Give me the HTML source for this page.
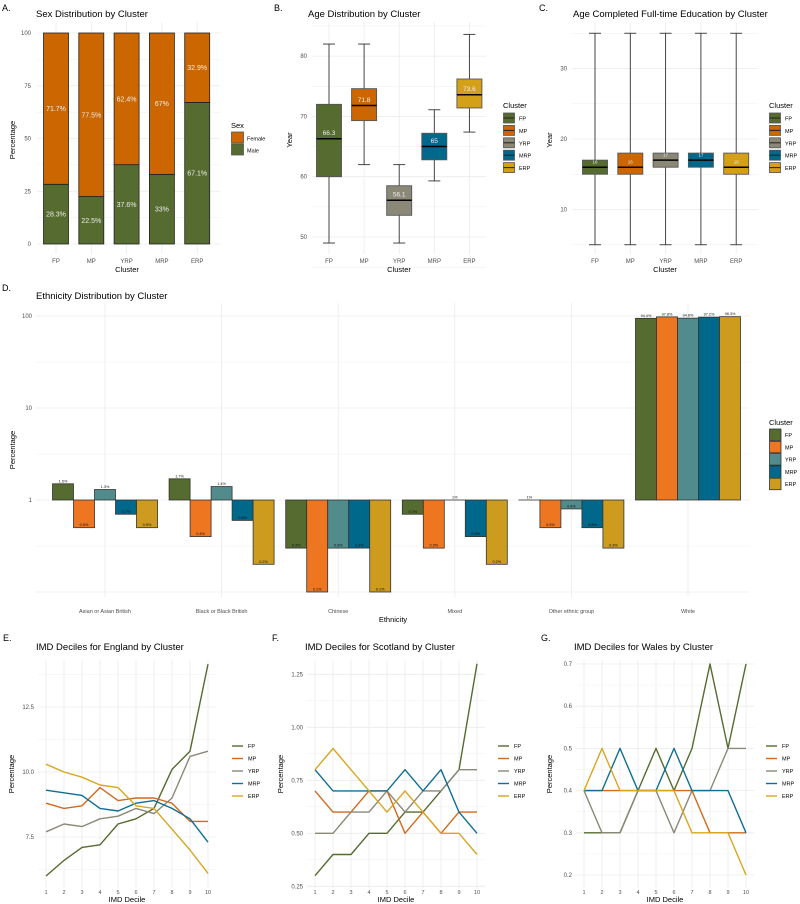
<!DOCTYPE html>
<html><head><meta charset="utf-8"><style>
html,body{margin:0;padding:0;background:#fff;}
svg{display:block;font-family:"Liberation Sans",sans-serif;}
</style></head><body>
<svg id="fig" width="800" height="904" viewBox="0 0 800 904" xmlns="http://www.w3.org/2000/svg"></svg>
<script>
// ---------- DATA ----------
const clusters = ["FP","MP","YRP","MRP","ERP"];
const sexMale = [28.3,22.5,37.6,33,67.1];
const sexFemale = [71.7,77.5,62.4,67,32.9];
const ageMin = [49,62,49,59.3,67.4];
const ageQ1 = [60,69.3,53.6,62.8,71.4];
const ageMed = [66.3,71.8,56.1,65,73.6];
const ageQ3 = [72,74.6,58.5,67.2,76.2];
const ageMax = [82,82,62,71.1,83.6];
const eduMin = [5,5,5,5,5];
const eduQ1 = [15,15,16,16,15];
const eduMed = [16,16,17,17,16];
const eduQ3 = [17,18,18,18,18];
const eduMax = [35,35,35,35,35];
const ethnicities = ["Asian or Asian British","Black or Black British","Chinese","Mixed","Other ethnic group","White"];
const ethFP = [1.5,1.7,0.3,0.7,1,94.4];
const ethMP = [0.5,0.4,0.1,0.3,0.5,97.8];
const ethYRP = [1.3,1.4,0.3,1,0.8,94.8];
const ethMRP = [0.7,0.6,0.3,0.4,0.5,97.2];
const ethERP = [0.5,0.2,0.1,0.2,0.3,98.3];
const deciles = [1,2,3,4,5,6,7,8,9,10];
const engFP = [6.0,6.6,7.1,7.2,8.0,8.2,8.6,10.1,10.8,14.15];
const engMP = [8.8,8.6,8.7,9.4,8.9,9.0,9.0,8.8,8.1,8.1];
const engYRP = [7.7,8.0,7.9,8.2,8.3,8.6,8.4,9.0,10.6,10.8];
const engMRP = [9.3,9.2,9.1,8.6,8.5,8.8,8.9,8.6,8.2,7.3];
const engERP = [10.3,10.0,9.8,9.5,9.4,8.7,8.6,7.8,7.0,6.1];
const scoFP = [0.3,0.4,0.4,0.5,0.5,0.6,0.6,0.7,0.8,1.3];
const scoMP = [0.7,0.6,0.6,0.7,0.7,0.5,0.6,0.5,0.6,0.6];
const scoYRP = [0.5,0.5,0.6,0.6,0.7,0.6,0.7,0.7,0.8,0.8];
const scoMRP = [0.8,0.7,0.7,0.7,0.7,0.8,0.7,0.8,0.6,0.5];
const scoERP = [0.8,0.9,0.8,0.7,0.6,0.7,0.6,0.5,0.5,0.4];
const walFP = [0.3,0.3,0.3,0.4,0.5,0.4,0.5,0.7,0.5,0.7];
const walMP = [0.4,0.4,0.4,0.4,0.4,0.4,0.4,0.3,0.3,0.3];
const walYRP = [0.4,0.3,0.3,0.4,0.4,0.3,0.4,0.4,0.5,0.5];
const walMRP = [0.4,0.4,0.5,0.4,0.4,0.5,0.4,0.4,0.4,0.3];
const walERP = [0.4,0.5,0.4,0.4,0.4,0.4,0.3,0.3,0.3,0.2];
const ageTicks = [50,60,70,80];
const eduTicks = [10,20,30];
const pctTicks = [0,25,50,75,100];
const logTicks = [1,10,100];
const engTicks = [7.5,10,12.5];
const engTickLabels = ["7.5","10.0","12.5"];
const scoTicks = [0.25,0.5,0.75,1.0,1.25];
const scoTickLabels = ["0.25","0.50","0.75","1.00","1.25"];
const walTicks = [0.2,0.3,0.4,0.5,0.6,0.7];
const walTickLabels = ["0.2","0.3","0.4","0.5","0.6","0.7"];

const colA = ["#556b2f","#cc6600","#8b8878","#00688b","#d4a017"];
const colD = ["#556b2f","#ee7621","#528b8b","#00688b","#cd9b1d"];
const colL = ["#556b2f","#d2691e","#8b8878","#0f6e93","#daa520"];

const svg = document.getElementById('fig');
const NS = "http://www.w3.org/2000/svg";
function mk(tag, attrs, parent){
  const e = document.createElementNS(NS, tag);
  for (const k in attrs) e.setAttribute(k, attrs[k]);
  (parent||svg).appendChild(e);
  return e;
}
function txt(x,y,s,size,fill,anchor,parent,rot){
  const t = mk('text',{x:x,y:y,'font-size':size,fill:fill,'text-anchor':anchor||'start'},parent);
  if (rot) t.setAttribute('transform','rotate(-90 '+x+' '+y+')');
  t.textContent = s;
  return t;
}
function grp(name){
  const g = mk('g',{});
  
  
  return g;
}
function hline(g,x1,x2,y,w,c){ return mk('line',{x1:x1,x2:x2,y1:y,y2:y,stroke:c||'#ebebeb','stroke-width':w||0.8},g); }
function vline(g,x,y1,y2,w,c){ return mk('line',{x1:x,x2:x,y1:y1,y2:y2,stroke:c||'#ebebeb','stroke-width':w||0.8},g); }

// ---------- Panel A ----------
(function(){
  const g = grp('panel-a-sex-distribution');
  const X = i => 56 + i*35.3, Y = v => 244 - v*2.11;
  const gr = grp('panel-a-grid'); g.appendChild(gr);
  pctTicks.forEach((t,i)=>{ hline(gr,37,220,Y(t),0.8); if(i<4) hline(gr,37,220,Y(t+12.5),0.4); });
  clusters.forEach((c,i)=>vline(gr,X(i),22,254,0.8));
  pctTicks.forEach(t=>{ const e=txt(31,Y(t)+2,String(t),6,'#4d4d4d','end',g);
      });
  clusters.forEach((c,i)=>{
    const m = sexMale[i], f = sexFemale[i];
    const b1 = mk('rect',{x:X(i)-12.5,y:Y(m),width:25,height:Y(0)-Y(m),fill:colA[0],stroke:'#222','stroke-width':0.8},g);
    
    
    const b2 = mk('rect',{x:X(i)-12.5,y:Y(m+f),width:25,height:Y(m)-Y(m+f),fill:colA[1],stroke:'#222','stroke-width':0.8},g);
    
    
    const l1 = txt(X(i),Y(m/2)+2.5,m+'%',7,'#eee','middle',g);
    
    
    const l2 = txt(X(i),Y(m+f/2)+2.5,f+'%',7,'#eee','middle',g);
    
    
    const xt = txt(X(i),263,c,6,'#4d4d4d','middle',g);
    
    
  });
  txt(2,11,'A.',9,'#000','start',g);
  const t = txt(36,17,'Sex Distribution by Cluster',9.5,'#000','start',g);
  
  
  txt(127,272,'Cluster',7.5,'#000','middle',g);
  txt(15,140,'Percentage',7.5,'#000','middle',g,true);
  const lg = grp('panel-a-legend'); g.appendChild(lg);
  txt(231,128,'Sex',7.5,'#000','start',lg);
  mk('rect',{x:231.5,y:132,width:12,height:11,fill:colA[1],stroke:'#555','stroke-width':0.8},lg);
  mk('rect',{x:231.5,y:144,width:12,height:11,fill:colA[0],stroke:'#555','stroke-width':0.8},lg);
  txt(247,140.5,'Female',5.5,'#000','start',lg);
  txt(247,152.5,'Male',5.5,'#000','start',lg);
})();

// ---------- Box panels ----------
function boxPanel(name, x0, x1, X, Y, ticks, minorTicks, mins,q1,med,q3,maxs, title, label, lx, tx, showMed, medSize){
  const g = grp(name);
  const gr = grp(name+'-grid'); g.appendChild(gr);
  ticks.forEach(t=>hline(gr,x0,x1,Y(t),0.8));
  minorTicks.forEach(t=>hline(gr,x0,x1,Y(t),0.4));
  clusters.forEach((c,i)=>vline(gr,X(i),22,254,0.8));
  ticks.forEach(t=>txt(x0-5,Y(t)+2,String(t),6,'#4d4d4d','end',g));
  clusters.forEach((c,i)=>{
    const bx = grp(name+'-box-'+c.toLowerCase()); g.appendChild(bx);
    
    vline(bx,X(i),Y(maxs[i]),Y(q3[i]),0.9,'#333');
    vline(bx,X(i),Y(q1[i]),Y(mins[i]),0.9,'#333');
    hline(bx,X(i)-6,X(i)+6,Y(maxs[i]),0.9,'#333');
    hline(bx,X(i)-6,X(i)+6,Y(mins[i]),0.9,'#333');
    mk('rect',{x:X(i)-12.5,y:Y(q3[i]),width:25,height:Y(q1[i])-Y(q3[i]),fill:colA[i],stroke:'#555','stroke-width':0.9},bx);
    hline(bx,X(i)-12.5,X(i)+12.5,Y(med[i]),1.5,'#000');
    txt(X(i),Y(med[i])-3.5,String(med[i]),medSize,'#eee','middle',bx);
    txt(X(i),263,c,6,'#4d4d4d','middle',g);
  });
  txt(tx-34,11,label,9,'#000','start',g);
  txt(tx,17,title,9.5,'#000','start',g);
  txt((x0+x1)/2,272,'Cluster',7.5,'#000','middle',g);
  txt(x0-20,140,'Year',7.5,'#000','middle',g,true);
  const lg = grp(name+'-legend'); g.appendChild(lg);
  txt(lx,108,'Cluster',7.5,'#000','start',lg);
  clusters.forEach((c,i)=>{
    const y = 113 + i*12.4;
    mk('rect',{x:lx+0.5,y:y,width:11,height:10,fill:colA[i],stroke:'#555','stroke-width':0.8},lg);
    hline(lg,lx+0.5,lx+11.5,y+5,1,'#222');
    txt(lx+16,y+7.5,c,5.5,'#000','start',lg);
  });
  return g;
}
boxPanel('panel-b-age-distribution',312,486,i=>329+i*35.1,v=>237-(v-50)*6.03,ageTicks,[45,55,65,75,85].filter(v=>v<86),
  ageMin,ageQ1,ageMed,ageQ3,ageMax,'Age Distribution by Cluster','B.',503,308,true,6.5);
boxPanel('panel-c-education-age',572,758,i=>595+i*35.3,v=>139-(v-20)*7.05,eduTicks,[5,15,25,35],
  eduMin,eduQ1,eduMed,eduQ3,eduMax,'Age Completed Full-time Education by Cluster','C.',769,573,true,4.5);

// ---------- Panel D ----------
(function(){
  const g = grp('panel-d-ethnicity-distribution');
  const Y = v => 500 - Math.log10(v)*92;
  const GX = gi => 105 + gi*116.6;
  const gr = grp('panel-d-grid'); g.appendChild(gr);
  [0.1,1,10,100].forEach(t=>hline(gr,36,750,Y(t),0.8));
  [0.316,3.16,31.6].forEach(t=>hline(gr,36,750,Y(t),0.4));
  ethnicities.forEach((e,i)=>vline(gr,GX(i),303,597,0.8));
  logTicks.forEach(t=>txt(32,Y(t)+2,String(t),6,'#4d4d4d','end',g));
  const series = [ethFP,ethMP,ethYRP,ethMRP,ethERP];
  ethnicities.forEach((e,gi)=>{
    series.forEach((s,j)=>{
      const v = s[gi];
      const x = GX(gi) - 52.5 + j*21;
      const top = Math.min(Y(v),Y(1)), bot = Math.max(Y(v),Y(1));
      const r = mk('rect',{x:x,y:top,width:21,height:Math.max(bot-top,0.01),fill:colD[j],stroke:'#333','stroke-width':0.8},g);
      
      
      const ly = v>=1 ? top-1.5 : bot-1.5;
      txt(x+10.5,ly,v+'%',3.8,'#111','middle',g);
    });
    txt(GX(gi),613,e,5.5,'#4d4d4d','middle',g);
  });
  txt(2,291,'D.',9,'#000','start',g);
  txt(36,299,'Ethnicity Distribution by Cluster',9.5,'#000','start',g);
  txt(393,622,'Ethnicity',7.5,'#000','middle',g);
  txt(15,450,'Percentage',7.5,'#000','middle',g,true);
  const lg = grp('panel-d-legend'); g.appendChild(lg);
  txt(769,425,'Cluster',7.5,'#000','start',lg);
  clusters.forEach((c,i)=>{
    const y = 429 + i*12.3;
    mk('rect',{x:769.5,y:y,width:11.5,height:11.5,fill:colD[i],stroke:'#333','stroke-width':0.8},lg);
    txt(785,y+8,c,5.5,'#000','start',lg);
  });
})();

// ---------- Line panels ----------
function linePanel(name,x0,x1,X,Y,ticks,tickLabels,minors,series,title,label,tx,lx){
  const g = grp(name);
  const gr = grp(name+'-grid'); g.appendChild(gr);
  ticks.forEach(t=>hline(gr,x0,x1,Y(t),0.8));
  minors.forEach(t=>hline(gr,x0,x1,Y(t),0.4));
  deciles.forEach(d=>vline(gr,X(d),660,888,0.8));
  ticks.forEach((t,i)=>txt(x0-4,Y(t)+2,tickLabels[i],6,'#4d4d4d','end',g));
  deciles.forEach(d=>txt(X(d),894,String(d),5.5,'#4d4d4d','middle',g));
  series.forEach((s,j)=>{
    const pts = deciles.map((d,k)=>X(d)+','+Y(s[k])).join(' ');
    const p = mk('polyline',{points:pts,fill:'none',stroke:colL[j],'stroke-width':1.4,'stroke-linejoin':'round'},g);
    
    
  });
  txt(tx-33,641,label,9,'#000','start',g);
  txt(tx,650,title,9.5,'#000','start',g);
  txt((x0+x1)/2,902,'IMD Decile',7.5,'#000','middle',g);
  txt(x0-24,774,'Percentage',7.5,'#000','middle',g,true);
  const lg = grp(name+'-legend'); g.appendChild(lg);
  clusters.forEach((c,i)=>{
    const y = 746 + i*12.5;
    hline(lg,lx,lx+11,y,1.4,colL[i]);
    txt(lx+16,y+2,c,5.5,'#000','start',lg);
  });
}
linePanel('panel-e-imd-england',38,216,d=>46+(d-1)*18,v=>772-(v-10)*26,engTicks,engTickLabels,[6.25,8.75,11.25,13.75],
  [engFP,engMP,engYRP,engMRP,engERP],'IMD Deciles for England by Cluster','E.',36,232);
linePanel('panel-f-imd-scotland',307,485,d=>315+(d-1)*18,v=>727.3-(v-1)*212,scoTicks,scoTickLabels,[0.375,0.625,0.875,1.125],
  [scoFP,scoMP,scoYRP,scoMRP,scoERP],'IMD Deciles for Scotland by Cluster','F.',305,498);
linePanel('panel-g-imd-wales',576,754,d=>584+(d-1)*18,v=>664-(v-0.7)*422,walTicks,walTickLabels,[0.25,0.35,0.45,0.55,0.65],
  [walFP,walMP,walYRP,walMRP,walERP],'IMD Deciles for Wales by Cluster','G.',574,766);
</script>
</body></html>
